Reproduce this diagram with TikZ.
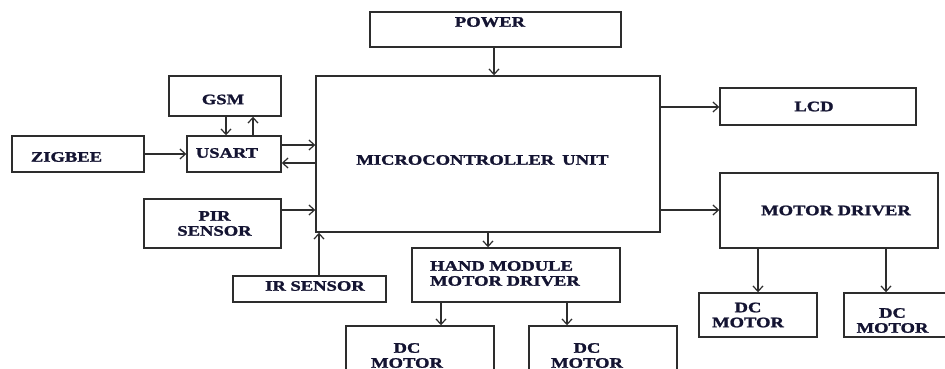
\documentclass[tikz,border=0pt]{standalone}
\usepackage{fontspec}
\setmainfont{Liberation Serif}[FakeStretch=1.28, BoldFeatures={FakeBold=1.5}]
\usetikzlibrary{arrows.meta}
\definecolor{ink}{RGB}{20,20,50}
\definecolor{edge}{RGB}{45,45,45}
\tikzset{
  blk/.style={draw=edge, line width=1.4pt, inner sep=0pt, rectangle},
  txt/.style={text=ink, font=\fontsize{14.5}{15}\selectfont\bfseries, inner sep=0pt, align=center},
  arr/.style={draw=edge, line width=1.2pt, -{Straight Barb[length=5.5pt,width=10pt]}},
}
\begin{document}
\begin{tikzpicture}[x=1pt,y=-1pt]
\useasboundingbox (0,0) rectangle (945,369);
\clip (0,0) rectangle (945,369);
% boxes
\node[blk, minimum width=251pt, minimum height=35pt,
  label={[txt,xshift=-5.5pt,yshift=7.5pt]center:POWER}] (power) at (495.5,29.5) {};
\node[blk, minimum width=344pt, minimum height=156pt,
  label={[txt,xshift=-5.5pt,yshift=-6pt]center:MICROCONTROLLER\hspace{0.55em}UNIT}] (mcu) at (488,154) {};
\node[blk, minimum width=196pt, minimum height=37pt,
  label={[txt,xshift=-4pt]center:LCD}] (lcd) at (818,106.5) {};
\node[blk, minimum width=218pt, minimum height=75pt,
  label={[txt,xshift=7pt]center:MOTOR DRIVER}] (md) at (829,210.5) {};
\node[blk, minimum width=112pt, minimum height=40pt,
  label={[txt,xshift=-2pt,yshift=-3.5pt]center:GSM}] (gsm) at (225,96) {};
\node[blk, minimum width=94pt, minimum height=36pt,
  label={[txt,xshift=-7pt,yshift=1pt]center:USART}] (usart) at (234,154) {};
\node[blk, minimum width=132pt, minimum height=36pt,
  label={[txt,xshift=-11.5pt,yshift=-3pt]center:ZIGBEE}] (zigbee) at (78,154) {};
\node[blk, minimum width=137pt, minimum height=49pt,
  label={[txt,xshift=2pt]center:PIR\\SENSOR}] (pir) at (212.5,223.5) {};
\node[blk, minimum width=153pt, minimum height=26pt,
  label={[txt,xshift=5.5pt,yshift=3pt]center:IR SENSOR}] (ir) at (309.5,289) {};
\node[blk, minimum width=208pt, minimum height=54pt,
  label={[txt,align=left,xshift=-11pt,yshift=1.5pt]center:HAND MODULE\\MOTOR DRIVER}] (hand) at (516,275) {};
\node[blk, minimum width=148pt, minimum height=74pt,
  label={[txt,xshift=-13pt,yshift=7.5pt]center:DC\\MOTOR}] (dca) at (420,363) {};
\node[blk, minimum width=148pt, minimum height=74pt,
  label={[txt,xshift=-16pt,yshift=7.5pt]center:DC\\MOTOR}] (dcb) at (603,363) {};
\node[blk, minimum width=118pt, minimum height=44pt,
  label={[txt,xshift=-10pt]center:DC\\MOTOR}] (dcc) at (758,315) {};
\node[blk, minimum width=116pt, minimum height=44pt,
  label={[txt,xshift=-9.5pt,yshift=-5.5pt]center:DC\\MOTOR}] (dcd) at (902,315) {};
% connectors
\draw[arr] (power.south -| 494,0) -- (mcu.north -| 494,0);
\draw[arr] (gsm.south -| 226,0) -- (usart.north -| 226,0);
\draw[arr] (usart.north -| 253,0) -- (gsm.south -| 253,0);
\draw[arr] (zigbee.east |- 0,154) -- (usart.west |- 0,154);
\draw[arr] (usart.east |- 0,145) -- (mcu.west |- 0,145);
\draw[arr] (mcu.west |- 0,163) -- (usart.east |- 0,163);
\draw[arr] (pir.east |- 0,210) -- (mcu.west |- 0,210);
\draw[arr] (ir.north -| 319,0) -- (mcu.south -| 319,0);
\draw[arr] (mcu.east |- 0,107) -- (lcd.west |- 0,107);
\draw[arr] (mcu.east |- 0,210) -- (md.west |- 0,210);
\draw[arr] (mcu.south -| 488,0) -- (hand.north -| 488,0);
\draw[arr] (hand.south -| 441,0) -- (dca.north -| 441,0);
\draw[arr] (hand.south -| 567,0) -- (dcb.north -| 567,0);
\draw[arr] (md.south -| 758,0) -- (dcc.north -| 758,0);
\draw[arr] (md.south -| 886,0) -- (dcd.north -| 886,0);
\end{tikzpicture}
\end{document}
